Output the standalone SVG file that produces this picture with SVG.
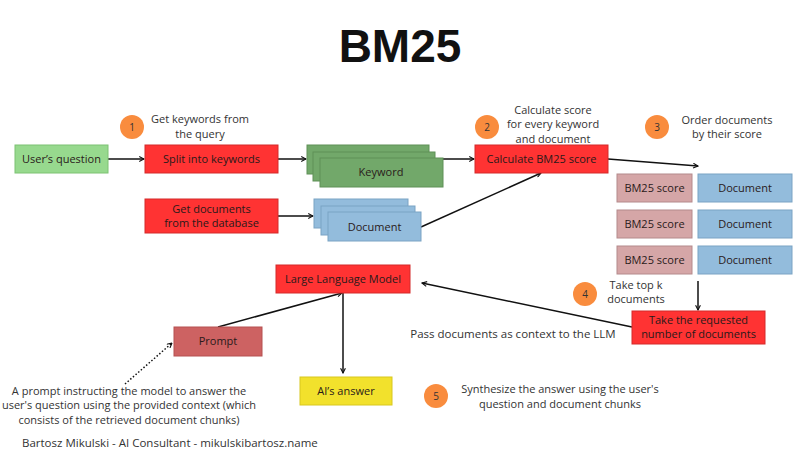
<svg xmlns="http://www.w3.org/2000/svg" width="800" height="450" viewBox="0 0 800 450">
<defs>
<style>
.t{font-family:"Open Sans","Noto Sans",sans-serif;font-size:11px;fill:#333;text-anchor:middle}
.n{font-family:"Open Sans","Noto Sans",sans-serif;font-size:11px;fill:#2a1a1a;text-anchor:middle}
.c{fill:#f98c3e}
.ct{font-family:"Open Sans","Noto Sans",sans-serif;font-size:10px;fill:#333;text-anchor:middle}
.red{fill:#ff3333;stroke:#d42a2a;stroke-width:1}
.grn{fill:#72a86a;stroke:#5f9057;stroke-width:1}
.blu{fill:#93bcdc;stroke:#7aa3c4;stroke-width:1}
.pnk{fill:#d5a6a7;stroke:#b48a8b;stroke-width:1}
.ln{stroke:#111;stroke-width:1.5;fill:none;marker-end:url(#ah)}
</style>
<marker id="ah" viewBox="0 0 10 10" refX="9" refY="5" markerWidth="6" markerHeight="6" orient="auto" markerUnits="userSpaceOnUse">
<polyline points="1,1 9,5 1,9" fill="none" stroke="#111" stroke-width="1.8"/>
</marker>
</defs>
<rect width="800" height="450" fill="#fff"/>
<text x="400" y="62" font-family="Liberation Sans,Arial,sans-serif" font-weight="bold" font-size="46" text-anchor="middle" fill="#111">BM25</text>

<g id="connectors">
<line class="ln" x1="108" y1="159" x2="144" y2="159"/>
<line class="ln" x1="278" y1="159" x2="306" y2="159"/>
<line class="ln" x1="278" y1="216" x2="313" y2="216"/>
<line class="ln" x1="443" y1="159" x2="474" y2="159"/>
<line class="ln" x1="421" y1="227" x2="541" y2="173"/>
<line class="ln" x1="608" y1="159" x2="698" y2="166"/>
<line class="ln" x1="698" y1="281" x2="698" y2="310"/>
<line class="ln" x1="632" y1="327" x2="422" y2="283"/>
<line class="ln" x1="218" y1="327" x2="342" y2="293"/>
<line class="ln" x1="343" y1="293" x2="343" y2="373"/>
<line class="ln" x1="125" y1="384" x2="172" y2="343" stroke-dasharray="1.5,2"/>
</g>

<g id="users-question"><rect x="15" y="145" width="93" height="28" fill="#97d98e" stroke="#7cc273"/><text class="n" x="61.5" y="163">User’s question</text></g>
<g id="split-keywords"><rect class="red" x="145" y="145" width="133" height="28"/><text class="n" x="211.5" y="163">Split into keywords</text></g>
<g id="keyword-stack">
<rect class="grn" x="307" y="145" width="122" height="29"/>
<rect class="grn" x="313" y="152" width="122" height="29"/>
<rect class="grn" x="320" y="158" width="123" height="29"/>
<text class="n" x="381" y="176">Keyword</text>
</g>
<g id="get-documents"><rect class="red" x="145" y="199" width="133" height="34"/><text class="n" x="211.5" y="213">Get documents</text><text class="n" x="211.5" y="227">from the database</text></g>
<g id="document-stack">
<rect class="blu" x="314" y="199" width="94" height="29"/>
<rect class="blu" x="321" y="206" width="94" height="29"/>
<rect class="blu" x="328" y="212" width="93" height="29"/>
<text class="n" x="374.5" y="231">Document</text>
</g>
<g id="calculate-bm25"><rect class="red" x="475" y="145" width="133" height="28"/><text class="n" x="541.5" y="163">Calculate BM25 score</text></g>
<g id="score-1"><rect class="pnk" x="617" y="174" width="75" height="28"/><text class="n" x="654.5" y="192">BM25 score</text></g>
<g id="doc-1"><rect class="blu" x="698" y="174" width="94" height="28"/><text class="n" x="745" y="192">Document</text></g>
<g id="score-2"><rect class="pnk" x="617" y="210" width="75" height="28"/><text class="n" x="654.5" y="228">BM25 score</text></g>
<g id="doc-2"><rect class="blu" x="698" y="210" width="94" height="28"/><text class="n" x="745" y="228">Document</text></g>
<g id="score-3"><rect class="pnk" x="617" y="246" width="75" height="28"/><text class="n" x="654.5" y="264">BM25 score</text></g>
<g id="doc-3"><rect class="blu" x="698" y="246" width="94" height="28"/><text class="n" x="745" y="264">Document</text></g>
<g id="take-requested"><rect class="red" x="632" y="311" width="133" height="33"/><text class="n" x="698.5" y="324">Take the requested</text><text class="n" x="698.5" y="338">number of documents</text></g>
<g id="llm"><rect class="red" x="276" y="265" width="134" height="28"/><text class="n" x="343" y="283">Large Language Model</text></g>
<g id="prompt"><rect x="174" y="327" width="88" height="29" fill="#cd6262" stroke="#b55050"/><text class="n" x="218" y="345">Prompt</text></g>
<g id="ai-answer"><rect x="300" y="377" width="92" height="28" fill="#f2e12c" stroke="#d8c71e"/><text class="n" x="346" y="395">AI’s answer</text></g>

<g id="step-1"><circle class="c" cx="132" cy="127" r="12"/><text class="ct" x="132" y="131">1</text>
<text class="t" x="200" y="123">Get keywords from</text><text class="t" x="200" y="138">the query</text></g>
<g id="step-2"><circle class="c" cx="487" cy="127" r="12"/><text class="ct" x="487" y="131">2</text>
<text class="t" x="553" y="114">Calculate score</text><text class="t" x="553" y="128">for every keyword</text><text class="t" x="553" y="143">and document</text></g>
<g id="step-3"><circle class="c" cx="657" cy="127" r="12"/><text class="ct" x="657" y="131">3</text>
<text class="t" x="727" y="124">Order documents</text><text class="t" x="727" y="138">by their score</text></g>
<g id="step-4"><circle class="c" cx="585" cy="294" r="12"/><text class="ct" x="585" y="298">4</text>
<text class="t" x="636" y="289">Take top k</text><text class="t" x="636" y="303">documents</text></g>
<text class="t" x="513" y="338" style="font-size:11.5px">Pass documents as context to the LLM</text>
<g id="step-5"><circle class="c" cx="436" cy="396" r="12"/><text class="ct" x="436" y="400">5</text>
<text class="t" x="560" y="393">Synthesize the answer using the user's</text><text class="t" x="560" y="408">question and document chunks</text></g>
<text class="t" x="129" y="395">A prompt instructing the model to answer the</text>
<text class="t" x="129" y="409">user's question using the provided context (which</text>
<text class="t" x="129" y="424">consists of the retrieved document chunks)</text>
<text class="t" x="22" y="447" style="text-anchor:start;font-size:11.5px">Bartosz Mikulski - AI Consultant - mikulskibartosz.name</text>
</svg>
